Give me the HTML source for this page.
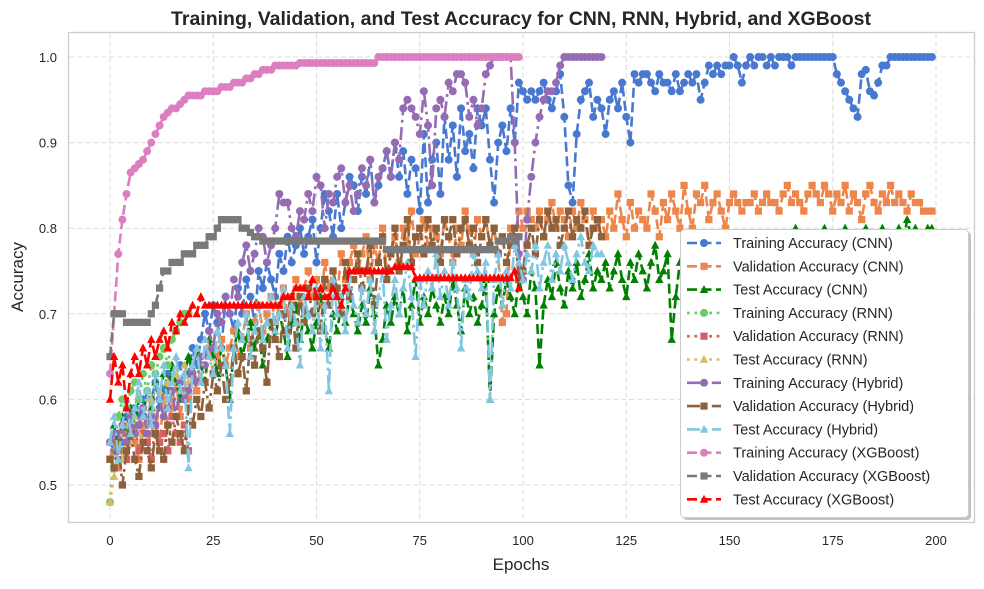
<!DOCTYPE html>
<html><head><meta charset="utf-8"><style>
body{margin:0;background:#fff;width:984px;height:584px;overflow:hidden}
svg text{font-family:"Liberation Sans",Arial,sans-serif;fill:#262626}
</style></head><body>
<svg id="chart" width="984" height="584" xmlns="http://www.w3.org/2000/svg">
<text x="521" y="25" text-anchor="middle" font-size="19.5" font-weight="bold">Training, Validation, and Test Accuracy for CNN, RNN, Hybrid, and XGBoost</text>
<g id="grid"></g>
<g id="ticks"></g>
<rect x="68.5" y="32.5" width="906" height="490" fill="none" stroke="#cccccc" stroke-width="1.3"/>
<g id="series"></g>
<text x="521" y="570" text-anchor="middle" font-size="17">Epochs</text>
<text transform="translate(23,277) rotate(-90)" text-anchor="middle" font-size="17">Accuracy</text>
<g id="legend"></g>
</svg>
<script>
const xTicks=[0,25,50,75,100,125,150,175,200];
const yTicks=[0.5,0.6,0.7,0.8,0.9,1.0];
const seriesNames=["Training Accuracy (CNN)","Validation Accuracy (CNN)","Test Accuracy (CNN)","Training Accuracy (RNN)","Validation Accuracy (RNN)","Test Accuracy (RNN)","Training Accuracy (Hybrid)","Validation Accuracy (Hybrid)","Test Accuracy (Hybrid)","Training Accuracy (XGBoost)","Validation Accuracy (XGBoost)","Test Accuracy (XGBoost)"];
const cnnTrain=[.55,.54,.56,.55,.58,.57,.59,.58,.60,.57,.60,.62,.59,.61,.63,.60,.62,.64,.61,.63,.66,.64,.67,.70,.68,.71,.69,.66,.72,.70,.68,.73,.70,.74,.72,.69,.75,.73,.76,.74,.72,.77,.75,.79,.76,.78,.80,.77,.79,.81,.76,.80,.84,.82,.79,.84,.80,.83,.86,.85,.82,.86,.84,.88,.83,.85,.87,.89,.86,.90,.86,.89,.84,.88,.87,.82,.91,.83,.88,.90,.84,.93,.88,.92,.86,.94,.89,.91,.87,.94,.92,.94,.88,.83,.90,.92,.89,.94,.90,.97,.96,.95,.96,.95,.96,.97,.95,.94,.96,.98,.93,.85,.83,.91,.95,.96,.97,.93,.95,.94,.91,.95,.96,.94,.97,.93,.90,.98,.97,.98,.98,.97,.96,.98,.97,.97,.96,.98,.96,.97,.98,.97,.98,.95,.97,.99,.98,.99,.98,.99,.99,1.0,.99,.97,.99,1.0,.99,1.0,1.0,.99,1.0,.99,1.0,1.0,1.0,.99,1.0,1.0,1.0,1.0,1.0,1.0,1.0,1.0,1.0,1.0,.98,.97,.96,.95,.94,.93,.98,.985,.96,.955,.97,.99,.99,1.0,1.0,1.0,1.0,1.0,1.0,1.0,1.0,1.0,1.0,1.0];
const cnnVal=[.53,.55,.52,.54,.53,.56,.55,.53,.57,.55,.56,.58,.55,.60,.57,.59,.62,.58,.61,.60,.63,.61,.64,.62,.66,.63,.65,.67,.64,.66,.68,.65,.67,.70,.66,.69,.71,.68,.70,.72,.69,.71,.73,.70,.72,.74,.71,.73,.75,.72,.74,.71,.76,.73,.75,.72,.77,.74,.76,.78,.75,.77,.79,.74,.78,.76,.80,.75,.77,.79,.76,.80,.78,.82,.77,.79,.81,.78,.80,.79,.77,.81,.79,.76,.80,.78,.82,.80,.77,.81,.79,.81,.78,.80,.77,.69,.70,.80,.79,.82,.80,.82,.81,.80,.82,.79,.81,.83,.80,.82,.81,.79,.82,.80,.83,.81,.78,.82,.80,.81,.79,.82,.80,.84,.81,.79,.83,.80,.82,.81,.80,.84,.82,.79,.83,.81,.84,.82,.80,.85,.82,.80,.84,.83,.85,.81,.83,.84,.82,.80,.83,.84,.83,.82,.83,.83,.84,.82,.83,.84,.83,.83,.82,.84,.85,.83,.84,.83,.82,.84,.85,.84,.83,.85,.84,.82,.84,.83,.85,.82,.84,.83,.81,.84,.85,.83,.82,.84,.83,.85,.83,.84,.83,.82,.84,.83,.83,.82,.82,.82];
const cnnTest=[.55,.57,.54,.58,.56,.59,.57,.60,.58,.61,.59,.62,.60,.63,.61,.64,.62,.60,.63,.65,.63,.66,.64,.62,.67,.65,.63,.66,.64,.60,.66,.68,.65,.67,.69,.66,.68,.64,.67,.69,.67,.70,.68,.65,.69,.71,.67,.70,.68,.66,.69,.72,.68,.66,.70,.68,.71,.69,.72,.70,.68,.71,.69,.73,.70,.64,.67,.71,.69,.72,.70,.73,.68,.71,.74,.69,.72,.70,.73,.71,.69,.72,.70,.74,.71,.68,.73,.70,.72,.69,.71,.74,.60,.70,.73,.71,.74,.72,.70,.74,.72,.70,.75,.73,.64,.71,.74,.72,.76,.73,.71,.75,.73,.76,.72,.74,.77,.73,.75,.74,.76,.73,.75,.77,.74,.72,.76,.74,.77,.75,.73,.76,.78,.74,.75,.77,.67,.72,.76,.78,.75,.77,.74,.78,.76,.79,.75,.77,.76,.78,.77,.75,.78,.76,.79,.77,.75,.78,.76,.79,.77,.78,.76,.79,.77,.78,.80,.76,.78,.77,.79,.77,.78,.80,.76,.78,.79,.77,.80,.78,.78,.79,.77,.80,.78,.79,.77,.80,.78,.79,.79,.80,.78,.81,.79,.80,.79,.78,.80,.80];
const rnnTrain=[.48,.55,.58,.60,.59,.61,.62,.60,.63,.61,.64,.63,.65,.66,.64,.67,.68,.69,.70,.70];
const rnnVal=[.53,.55,.54,.56,.53,.55,.57,.54,.56,.55,.53,.57,.55,.56,.54,.58,.56,.55,.57,.54];
const rnnTest=[.48,.51,.55,.53,.57,.55,.58,.56,.59,.57,.60,.58,.61,.59,.62,.60,.63,.61,.64,.62];
const hybTrain=[.55,.56,.54,.57,.55,.58,.56,.57,.59,.56,.58,.57,.60,.58,.59,.61,.58,.62,.60,.61,.63,.62,.65,.64,.68,.66,.70,.69,.72,.70,.74,.72,.76,.78,.75,.77,.80,.79,.76,.78,.80,.84,.83,.83,.80,.79,.82,.81,.84,.82,.86,.85,.80,.84,.83,.86,.87,.83,.85,.82,.84,.87,.85,.88,.83,.86,.87,.89,.86,.90,.88,.94,.95,.94,.93,.91,.96,.92,.85,.94,.95,.93,.97,.96,.98,.98,.97,.93,.95,.92,.94,.98,.99,1.0,1.0,1.0,1.0,1.0,.90,.77,.74,.81,.86,.90,.93,.95,.96,.96,.97,.99,1.0,1.0,1.0,1.0,1.0,1.0,1.0,1.0,1.0,1.0];
const hybVal=[.53,.52,.55,.50,.54,.56,.53,.51,.55,.54,.52,.56,.54,.53,.57,.55,.58,.56,.54,.59,.57,.60,.58,.62,.59,.63,.61,.64,.60,.62,.66,.63,.65,.61,.67,.64,.68,.66,.62,.69,.67,.65,.70,.68,.71,.66,.72,.69,.73,.70,.72,.68,.74,.71,.75,.73,.70,.76,.72,.74,.77,.73,.75,.78,.71,.76,.79,.74,.77,.80,.75,.78,.81,.76,.79,.80,.77,.81,.78,.80,.76,.81,.79,.81,.77,.80,.81,.78,.80,.76,.79,.81,.78,.80,.77,.79,.76,.78,.80,.74,.75,.78,.80,.77,.81,.79,.82,.80,.81,.78,.80,.82,.79,.81,.80,.82,.78,.80,.81,.79];
const hybTest=[.55,.58,.53,.57,.60,.56,.59,.62,.58,.61,.57,.63,.60,.64,.59,.62,.65,.61,.63,.52,.64,.66,.62,.67,.65,.63,.68,.66,.64,.56,.66,.69,.67,.70,.65,.68,.71,.67,.69,.72,.68,.70,.73,.66,.71,.69,.64,.72,.70,.68,.73,.66,.71,.61,.74,.70,.72,.68,.75,.71,.69,.73,.70,.74,.68,.72,.75,.67,.71,.74,.70,.73,.76,.72,.65,.74,.71,.75,.73,.77,.72,.75,.71,.76,.73,.66,.74,.72,.77,.75,.73,.76,.60,.74,.77,.71,.75,.73,.78,.76,.74,.77,.75,.78,.73,.76,.78,.74,.77,.75,.78,.76,.74,.77,.79,.76,.75,.78,.77,.77];
const xgbTrain=[.63,.70,.77,.81,.84,.865,.87,.875,.88,.89,.90,.91,.92,.93,.935,.94,.94,.945,.95,.955,.955,.955,.955,.96,.96,.96,.96,.965,.965,.965,.97,.97,.97,.975,.975,.98,.98,.985,.985,.985,.99,.99,.99,.99,.99,.99,.993,.993,.993,.993,.993,.993,.993,.993,.993,.993,.993,.993,.993,.993,.993,.993,.993,.993,.993,1.0,1.0,1.0,1.0,1.0,1.0,1.0,1.0,1.0,1.0,1.0,1.0,1.0,1.0,1.0,1.0,1.0,1.0,1.0,1.0,1.0,1.0,1.0,1.0,1.0,1.0,1.0,1.0,1.0,1.0,1.0,1.0,1.0,1.0,1.0];
const xgbVal=[.65,.70,.70,.70,.69,.69,.69,.69,.69,.69,.70,.71,.73,.75,.75,.76,.76,.76,.77,.77,.77,.78,.78,.78,.79,.79,.80,.81,.81,.81,.81,.81,.80,.80,.795,.79,.79,.785,.785,.785,.785,.785,.785,.785,.785,.785,.785,.785,.785,.785,.785,.785,.785,.785,.785,.785,.785,.785,.785,.785,.785,.785,.785,.785,.785,.785,.785,.775,.775,.775,.775,.775,.775,.775,.775,.775,.775,.775,.775,.775,.775,.775,.775,.775,.775,.775,.775,.775,.775,.775,.775,.775,.775,.775,.785,.785,.785,.79,.785,.79];
const xgbTest=[.60,.65,.62,.64,.59,.63,.65,.63,.66,.64,.67,.65,.67,.68,.66,.69,.68,.70,.69,.70,.71,.70,.72,.71,.71,.71,.71,.71,.71,.71,.71,.71,.71,.71,.71,.71,.71,.71,.71,.71,.71,.71,.72,.72,.72,.73,.73,.73,.72,.74,.72,.73,.72,.72,.73,.72,.71,.73,.75,.75,.75,.75,.75,.75,.75,.75,.75,.75,.75,.755,.755,.755,.755,.755,.742,.742,.742,.742,.742,.742,.742,.742,.742,.742,.742,.742,.742,.742,.742,.742,.742,.742,.742,.742,.742,.742,.742,.742,.75,.73];

const NS="http://www.w3.org/2000/svg";
const X0=110,XS=4.13,Y1=57,YS=856;
function xs(e){return X0+e*XS;}
function ys(v){return Y1+(1-v)*YS;}
function mk(tag,attrs,parent){const el=document.createElementNS(NS,tag);for(const k in attrs)el.setAttribute(k,attrs[k]);parent.appendChild(el);return el;}

const grid=document.getElementById('grid'),ticks=document.getElementById('ticks');
xTicks.forEach(t=>{
  const l=mk('line',{x1:xs(t),x2:xs(t),y1:33,y2:522,stroke:'#dcdcdc','stroke-width':1,'stroke-dasharray':'5,3'},grid);
  
  
  const tx=mk('text',{x:xs(t),y:545,'text-anchor':'middle','font-size':13},ticks);tx.textContent=t;
  
  
});
yTicks.forEach(t=>{
  const l=mk('line',{x1:69,x2:974,y1:ys(t),y2:ys(t),stroke:'#dcdcdc','stroke-width':1,'stroke-dasharray':'5,3'},grid);
  
  
  const tx=mk('text',{x:57,y:ys(t)+5,'text-anchor':'end','font-size':13},ticks);tx.textContent=t.toFixed(1);
  
  
});

const DASH='10,4.5',DOT='2.8,4.6',DASHDOT='13,4.5,2.8,4.5';
const cfg=[
 [cnnTrain,'#4878d0','o',DASH],[cnnVal,'#ee854a','s',DASH],[cnnTest,'#008000','^',DASH],
 [rnnTrain,'#6acc64','o',DOT],[rnnVal,'#d65f5f','s',DOT],[rnnTest,'#d5bb67','^',DOT],
 [hybTrain,'#956cb4','o',DASHDOT],[hybVal,'#8c613c','s',DASHDOT],[hybTest,'#82c6e2','^',DASHDOT],
 [xgbTrain,'#dc7ec0','o',DASH],[xgbVal,'#797979','s',DASH],[xgbTest,'#ff0000','^',DASH]];
function marker(type,x,y,color,parent){
  let m;
  if(type==='o')m=mk('circle',{cx:x,cy:y,r:4,fill:color},parent);
  else if(type==='s')m=mk('rect',{x:x-3.6,y:y-3.6,width:7.2,height:7.2,fill:color},parent);
  else m=mk('polygon',{points:`${x},${y-4.6} ${x-4.2},${y+3.4} ${x+4.2},${y+3.4}`,fill:color},parent);
  return m;
}
const sg=document.getElementById('series');
cfg.forEach((c,i)=>{
  const [data,color,mt,dash]=c;
  const g=mk('g',{},sg);
  
  
  const d=data.map((v,e)=>(e?'L':'M')+xs(e).toFixed(1)+','+ys(v).toFixed(1)).join('');
  const p=mk('path',{d:d,fill:'none',stroke:color,'stroke-width':2.6,'stroke-dasharray':dash},g);
  
  
  data.forEach((v,e)=>{
    const m=marker(mt,xs(e),ys(v),color,g);
    
    
  });
});

const lg=document.getElementById('legend');
mk('rect',{x:683,y:232,width:288,height:288,rx:4,fill:'#999','opacity':0.6},lg);
const box=mk('rect',{x:680.5,y:229.5,width:288,height:288,rx:4,fill:'#fff',stroke:'#cccccc','stroke-width':1},lg);


cfg.forEach((c,i)=>{
  const y=243+i*23.3;
  const g=mk('g',{},lg);
  
  
  mk('line',{x1:687,x2:721,y1:y,y2:y,stroke:c[1],'stroke-width':2.6,'stroke-dasharray':c[3]},g);
  marker(c[2],704,y,c[1],g);
  const t=mk('text',{x:733,y:y+5,'font-size':14.5},g);t.textContent=seriesNames[i];
});
</script>
</body></html>
